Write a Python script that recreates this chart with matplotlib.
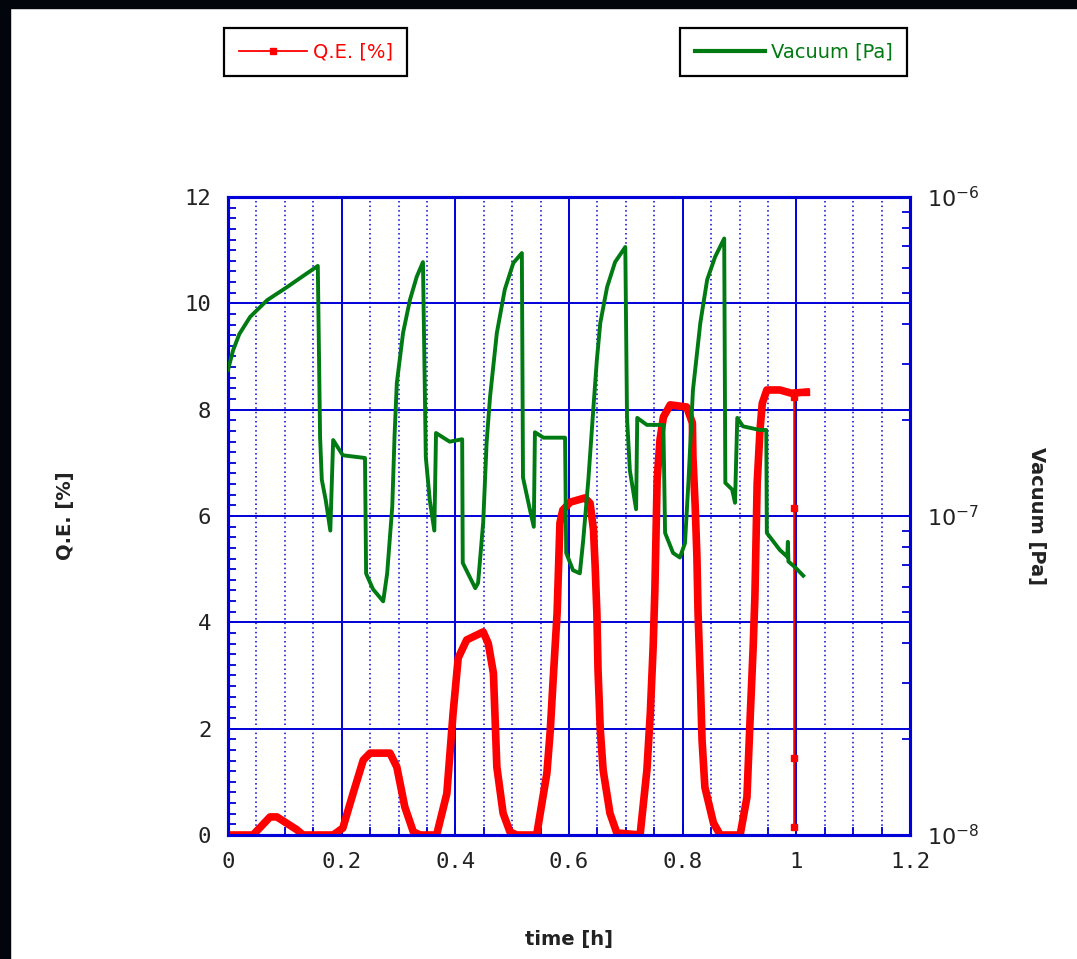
import matplotlib
matplotlib.use("Agg")
import matplotlib.pyplot as plt
from matplotlib.ticker import MultipleLocator, LogLocator, NullFormatter, FuncFormatter
from matplotlib.lines import Line2D
from matplotlib.patches import Rectangle

# --- data ---
# Q.E. [%] vs time [h]
t_qe = [0, 0.044, 0.074, 0.086, 0.121, 0.132, 0.185, 0.202, 0.22, 0.238, 0.25, 0.285,
        0.297, 0.311, 0.326, 0.338, 0.367, 0.385, 0.396, 0.405, 0.42, 0.449, 0.458, 0.467,
        0.473, 0.484, 0.496, 0.508, 0.543, 0.561, 0.567, 0.572, 0.579, 0.584, 0.589, 0.602,
        0.628, 0.637, 0.643, 0.646, 0.649, 0.651, 0.655, 0.66, 0.672, 0.684, 0.725, 0.737,
        0.743, 0.748, 0.751, 0.755, 0.76, 0.766, 0.778, 0.807, 0.817, 0.818, 0.822, 0.825,
        0.827, 0.831, 0.834, 0.839, 0.854, 0.866, 0.901, 0.913, 0.919, 0.924, 0.927, 0.931,
        0.936, 0.94, 0.948, 0.971, 0.991, 1.017]
qe = [0, 0, 0.34, 0.34, 0.1, 0, 0, 0.13, 0.78, 1.41, 1.54, 1.54,
      1.28, 0.53, 0.06, 0, 0, 0.78, 2.29, 3.33, 3.67, 3.82, 3.6, 3.04,
      1.28, 0.41, 0.06, 0, 0, 1.16, 1.97, 2.91, 4.17, 5.87, 6.11, 6.26,
      6.34, 6.24, 5.74, 5.04, 4.17, 3.1, 1.97, 1.22, 0.41, 0.04, 0, 1.22,
      2.29, 3.54, 4.6, 6.68, 7.43, 7.86, 8.09, 8.05, 7.75, 7.11, 6.17, 5.23,
      4.17, 2.91, 1.79, 0.9, 0.23, 0, 0, 0.71, 2.29, 3.54, 4.48, 6.62,
      7.62, 8.12, 8.37, 8.37, 8.31, 8.33]
# last sparse points (drawn thin, with markers)
t_qe_tail = [1.017, 0.996, 0.996, 0.996, 0.996]
qe_tail = [8.33, 8.24, 6.15, 1.45, 0.15]

# Vacuum [Pa] vs time [h]
t_vac = [0, 0.009, 0.02, 0.039, 0.069, 0.104, 0.13, 0.158, 0.162, 0.165, 0.172, 0.18,
         0.185, 0.202, 0.241, 0.243, 0.255, 0.273, 0.28, 0.289, 0.293, 0.297, 0.308, 0.32,
         0.332, 0.343, 0.348, 0.355, 0.363, 0.366, 0.39, 0.412, 0.413, 0.435, 0.44, 0.449,
         0.455, 0.461, 0.473, 0.487, 0.502, 0.517, 0.519, 0.531, 0.538, 0.54, 0.555, 0.593,
         0.595, 0.607, 0.619, 0.625, 0.634, 0.643, 0.649, 0.655, 0.667, 0.681, 0.699, 0.702,
         0.707, 0.718, 0.72, 0.737, 0.766, 0.769, 0.783, 0.795, 0.804, 0.81, 0.818, 0.831,
         0.843, 0.857, 0.873, 0.875, 0.887, 0.892, 0.896, 0.906, 0.936, 0.947, 0.948, 0.971,
         0.984, 0.985, 0.986, 0.998, 1.012]
vac = [2.87e-7, 3.31e-7, 3.72e-7, 4.21e-7, 4.75e-7, 5.22e-7, 5.62e-7, 6.08e-7, 1.77e-7, 1.30e-7, 1.12e-7, 9.0e-8,
       1.73e-7, 1.55e-7, 1.52e-7, 6.6e-8, 5.9e-8, 5.4e-8, 6.6e-8, 1.07e-7, 1.78e-7, 2.61e-7, 3.75e-7, 4.75e-7,
       5.62e-7, 6.25e-7, 1.53e-7, 1.12e-7, 9.0e-8, 1.82e-7, 1.71e-7, 1.74e-7, 7.13e-8, 5.94e-8, 6.17e-8, 9.55e-8,
       1.70e-7, 2.36e-7, 3.75e-7, 5.13e-7, 6.21e-7, 6.67e-7, 1.32e-7, 1.05e-7, 9.25e-8, 1.83e-7, 1.76e-7, 1.76e-7,
       7.66e-8, 6.76e-8, 6.61e-8, 8.41e-8, 1.30e-7, 2.20e-7, 3.09e-7, 4.03e-7, 5.22e-7, 6.25e-7, 6.97e-7, 2.04e-7,
       1.39e-7, 1.05e-7, 2.03e-7, 1.93e-7, 1.93e-7, 8.85e-8, 7.66e-8, 7.41e-8, 8.22e-8, 1.27e-7, 2.48e-7, 4.03e-7,
       5.50e-7, 6.49e-7, 7.41e-7, 1.27e-7, 1.21e-7, 1.10e-7, 2.03e-7, 1.91e-7, 1.86e-7, 1.86e-7, 8.85e-8, 7.82e-8,
       7.45e-8, 8.3e-8, 7.2e-8, 6.9e-8, 6.5e-8]

x_ticks = [0, 0.2, 0.4, 0.6, 0.8, 1.0, 1.2]
y_ticks = [0, 2, 4, 6, 8, 10, 12]

BLUE = "#0000d8"
RED = "#ff0000"
GREEN = "#007a12"
TXT = "#222222"

fig = plt.figure(figsize=(10.77, 9.59), dpi=100)
ax = fig.add_axes([0.2117, 0.1293, 0.6333, 0.6653])
ax2 = ax.twinx()

# Q.E.
ax.plot(t_qe, qe, color=RED, lw=5.5, solid_joinstyle="round", zorder=3)
ax.plot(t_qe_tail, qe_tail, color=RED, lw=1.3, marker="s", ms=4.5, zorder=3)

# vacuum on log axis
ax2.set_yscale("log")
ax2.plot(t_vac, vac, color=GREEN, lw=2.8, zorder=3)

ax.set_xlim(0, 1.2)
ax.set_ylim(0, 12)
ax2.set_ylim(1e-8, 1e-6)

ax.set_xticks(x_ticks)
ax.set_yticks(y_ticks)
fmt = FuncFormatter(lambda v, p: "%g" % v)
ax.xaxis.set_major_formatter(fmt)
ax.yaxis.set_major_formatter(fmt)
ax.xaxis.set_minor_locator(MultipleLocator(0.05))
ax.yaxis.set_minor_locator(MultipleLocator(0.2))

ax2.yaxis.set_major_locator(LogLocator(base=10))
ax2.yaxis.set_minor_locator(LogLocator(base=10, subs=range(2, 10)))
ax2.yaxis.set_minor_formatter(NullFormatter())

# grid: solid majors, dotted vertical minors
ax.set_axisbelow(True)
ax.grid(True, which="major", color=BLUE, lw=1.4, ls="-")
ax.xaxis.grid(True, which="minor", color=BLUE, lw=1.1, ls=(0, (1, 2)))

mono = "DejaVu Sans Mono"
ax.tick_params(which="both", direction="in", color=BLUE, labelcolor=TXT, top=False, right=False)
ax.tick_params(which="major", length=7, width=1.4, labelsize=16, pad=12)
ax.tick_params(which="minor", length=6, width=1.3)
ax2.tick_params(which="both", direction="in", color=BLUE, labelcolor=TXT)
ax2.tick_params(which="major", length=7, width=1.4, labelsize=16, pad=12)
ax2.tick_params(which="minor", length=6, width=1.3)
for lab in ax.get_xticklabels() + ax.get_yticklabels():
    lab.set_family(mono)

for a in (ax, ax2):
    for s in a.spines.values():
        s.set_color(BLUE)
        s.set_linewidth(2.2)

ax.set_xlabel("time [h]", fontsize=14, fontweight="bold", color=TXT)
ax.set_ylabel("Q.E. [%]", fontsize=14, fontweight="bold", color=TXT)
ax2.set_ylabel("Vacuum [Pa]", fontsize=14, fontweight="bold", color=TXT, rotation=270, va="center")
ax.xaxis.set_label_coords(0.5, -0.149)
ax.yaxis.set_label_coords(-0.224, 0.5)
ax2.yaxis.set_label_coords(1.186, 0.5)

# legends in two separate boxes above the plot
h1 = Line2D([], [], color=RED, lw=1.3, marker="s", ms=4.5)
h2 = Line2D([], [], color=GREEN, lw=3)
leg1 = fig.legend([h1], ["Q.E. [%]"], loc="center", bbox_to_anchor=(0.293, 0.9458),
                  fontsize=14, handlelength=3.5, handletextpad=0.3, labelcolor=RED,
                  fancybox=False, edgecolor="black", framealpha=1, borderpad=0.75)
leg2 = fig.legend([h2], ["Vacuum [Pa]"], loc="center", bbox_to_anchor=(0.7368, 0.9458),
                  fontsize=14, handlelength=3.6, handletextpad=0.3, labelcolor=GREEN,
                  fancybox=False, edgecolor="black", framealpha=1, borderpad=0.75)
for lg in (leg1, leg2):
    lg.get_frame().set_linewidth(1.6)

# dark frame at top and left edge of the screenshot
fig.patches.append(Rectangle((0, 1 - 8 / 959), 1, 8 / 959, transform=fig.transFigure, color="#02050b"))
fig.patches.append(Rectangle((0, 0), 10 / 1077, 1, transform=fig.transFigure, color="#02050b"))

fig.savefig("out.png", dpi=100)
